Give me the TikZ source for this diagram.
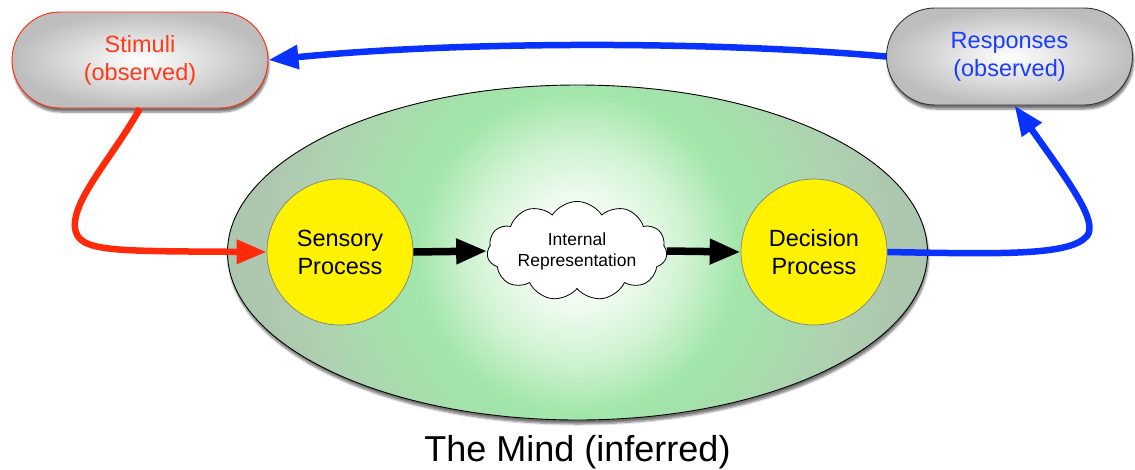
\documentclass[tikz,border=0pt]{standalone}
\usepackage{fontspec}
\setmainfont{Liberation Sans}
\usetikzlibrary{shapes.symbols,shapes.misc,shapes.geometric,arrows.meta,shadows,shadows.blur}
\definecolor{stimred}{HTML}{FF2A0A}
\definecolor{stimtext}{HTML}{FF3A1A}
\definecolor{respblue}{HTML}{0A32FF}
\definecolor{resptext}{HTML}{1A3CFF}
\definecolor{mg1}{HTML}{F2FCF2}
\definecolor{mg2}{HTML}{D2F3D4}
\definecolor{mg3}{HTML}{A2E6AA}
\definecolor{mg4}{HTML}{A6DEAC}
\definecolor{mg5}{HTML}{AFD0B1}
\definecolor{mg6}{HTML}{ADC6AE}
\pgfdeclareradialshading{boxshade}{\pgfpoint{0bp}{0bp}}{color(0bp)=(white); color(25bp)=(gray!52); color(50bp)=(gray!52)}
\pgfdeclareradialshading{mindshade}{\pgfpoint{0bp}{0bp}}{color(0bp)=(white); color(3.5bp)=(mg1); color(7.5bp)=(mg2); color(11.5bp)=(mg3); color(15bp)=(mg4); color(19.5bp)=(mg5); color(23bp)=(mg6); color(25bp)=(mg6); color(50bp)=(mg6)}
\begin{document}
\begin{tikzpicture}[x=1pt,y=-1pt,
  box/.style={rounded rectangle, inner sep=0pt, shading=boxshade, align=center,
    font=\fontsize{23.5}{28}\selectfont, line width=0.9pt,
    blur shadow={shadow xshift=1pt, shadow yshift=-4pt, shadow blur steps=6, shadow opacity=55}},
  proc/.style={circle, minimum size=146pt, inner sep=0pt, fill=yellow, draw=gray,
    line width=0.7pt, align=center, font=\fontsize{23.5}{28}\selectfont},
  blk/.style={line width=7.5pt, -{Triangle[length=31pt,width=24pt]}},
  colarrow/.style={line width=6.5pt, -{Triangle[length=30pt,width=23pt]}}
]
\useasboundingbox (0,0) rectangle (1135,469);
% the mind
\node[ellipse, minimum width=700pt, minimum height=335pt, inner sep=0pt, fill=mg6,
  blur shadow={shadow xshift=1pt, shadow yshift=-4pt, shadow blur steps=6, shadow opacity=55},
  path picture={\shade[shading=mindshade] (path picture bounding box.center) circle (350pt);}]
  (mind) at (577.5,252.5) {};
\draw[line width=0.9pt] (mind.center) ellipse [x radius=350pt, y radius=167.5pt];
\node[font=\fontsize{36}{40}\selectfont, anchor=base] (mindlbl) at (577.5,461) {The Mind (inferred)};
% boxes
\node[box, draw=stimred, text=stimtext, minimum width=256pt, minimum height=96pt] (stim) at (140,60) {Stimuli\\(observed)};
\node[box, draw=black!80, text=resptext, minimum width=246pt, minimum height=97pt] (resp) at (1009.5,56.5) {Responses\\(observed)};
% processes
\node[proc] (sens) at (340,252) {Sensory\\Process};
\node[proc] (dec) at (814,252) {Decision\\Process};
\node[cloud, cloud puffs=11, cloud puff arc=115, aspect=2.2, draw=black, fill=white, line width=0.8pt,
  inner sep=0pt, minimum width=180pt, minimum height=85pt, align=center,
  font=\fontsize{17.5}{21}\selectfont] (cloud) at (577,251) {Internal\\Representation};
% arrows
\draw[blk] (sens.east) -- (cloud.west);
\draw[blk] (cloud.east) -- (dec.west);
\draw[colarrow, respblue] (resp.west) .. controls (700,40) and (450,42) .. (stim.east);
\draw[colarrow, stimred] (stim.south) .. controls (112,158) and (72,200) .. (75,228)
   .. controls (78,252) and (110,251) .. (sens.west);
\draw[colarrow, respblue] (dec.east) .. controls (1000,254) and (1070,256) .. (1087,236)
   .. controls (1098,222) and (1072,186) .. ([xshift=5pt]resp.south);
\end{tikzpicture}
\end{document}
